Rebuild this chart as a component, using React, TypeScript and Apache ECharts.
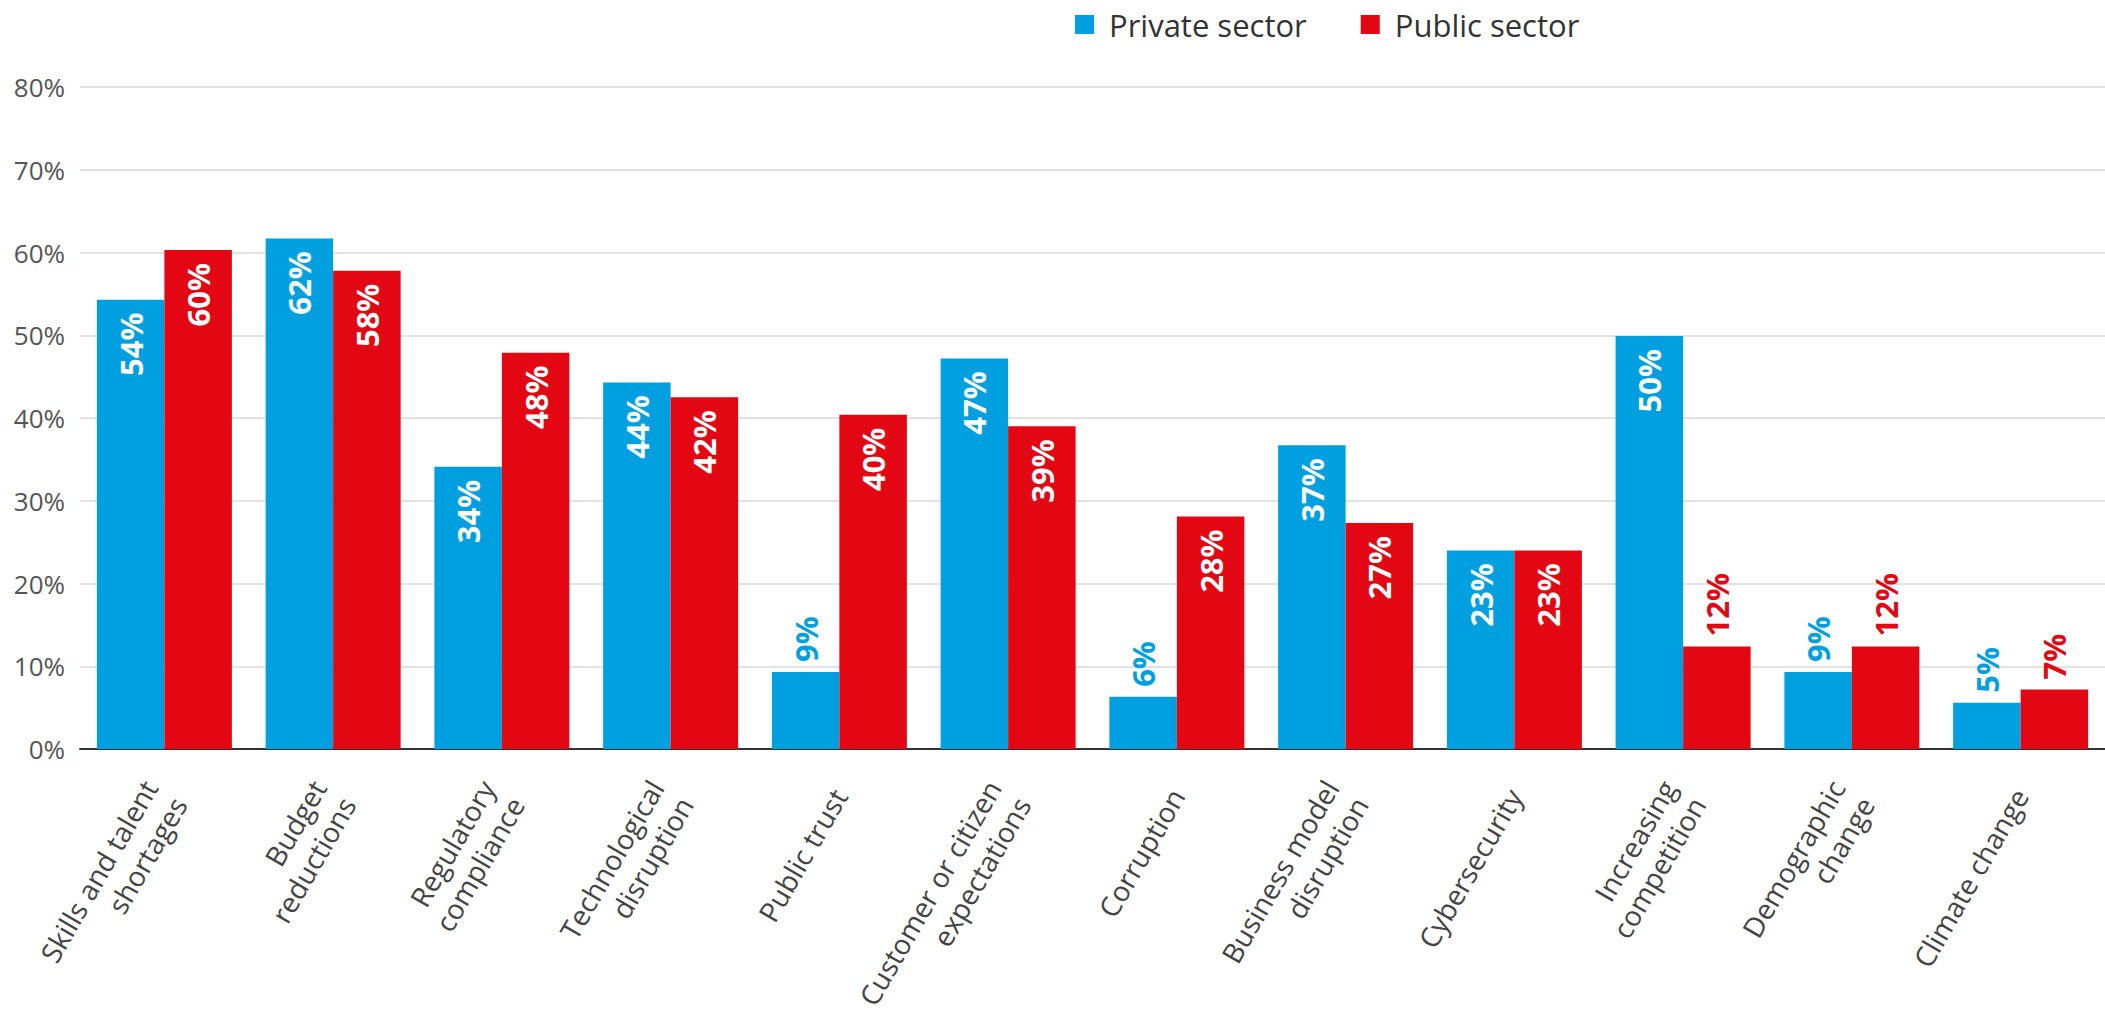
import React, { useEffect, useRef } from "react";
import * as echarts from "echarts";

const categories = [
  "Skills and talent\nshortages",
  "Budget\nreductions",
  "Regulatory\ncompliance",
  "Technological\ndisruption",
  "Public trust",
  "Customer or citizen\nexpectations",
  "Corruption",
  "Business model\ndisruption",
  "Cybersecurity",
  "Increasing\ncompetition",
  "Demographic\nchange",
  "Climate change",
];
const privateValues = [54.3, 61.7, 34.1, 44.3, 9.3, 47.2, 6.3, 36.7, 24.0, 49.9, 9.3, 5.6];
const publicValues = [60.3, 57.8, 47.9, 42.5, 40.4, 39.0, 28.1, 27.3, 24.0, 12.4, 12.4, 7.2];
const privateLabels = [54, 62, 34, 44, 9, 47, 6, 37, 23, 50, 9, 5];
const publicLabels = [60, 58, 48, 42, 40, 39, 28, 27, 23, 12, 12, 7];
const yTicks = [0, 10, 20, 30, 40, 50, 60, 70, 80];

const BLUE = "#009FDF";
const RED = "#E30613";
const FONT = "'Open Sans', sans-serif";

function buildData(values: number[], labels: number[], color: string) {
  return values.map((v, i) => {
    const inside = v >= 15;
    return {
      value: v,
      label: inside
        ? {
            show: true,
            position: "insideTop",
            rotate: 90,
            align: "right",
            verticalAlign: "middle",
            distance: 13,
            color: "#ffffff",
            formatter: labels[i] + "%",
          }
        : {
            show: true,
            position: "top",
            rotate: 90,
            align: "left",
            verticalAlign: "middle",
            distance: 10,
            color: color,
            formatter: labels[i] + "%",
          },
    };
  });
}

export default function App() {
  const ref = useRef<HTMLDivElement>(null);
  useEffect(() => {
    if (!ref.current) return;
    const chart = echarts.init(ref.current, null, { renderer: "svg" });
    const labelFont = { fontFamily: FONT, fontWeight: "bold", fontSize: 31 };
    chart.setOption({
      animation: false,
      backgroundColor: "#ffffff",
      legend: {
        data: ["Private sector", "Public sector"],
        left: 1070,
        top: 4,
        itemWidth: 19,
        itemHeight: 19,
        itemGap: 54,
        icon: "rect",
        textStyle: {
          fontFamily: FONT,
          fontSize: 31,
          color: "#333333",
          padding: [0, 0, 0, 10],
        },
      },
      grid: {
        left: 80,
        right: 0,
        top: 87,
        bottom: 283,
        containLabel: false,
        outerBoundsMode: "none",
      },
      xAxis: {
        type: "category",
        data: categories,
        axisTick: { show: false },
        axisLine: { lineStyle: { color: "#333333", width: 2 } },
        axisLabel: {
          rotate: 60,
          interval: 0,
          margin: 42,
          fontFamily: FONT,
          fontSize: 28,
          color: "#444444",
          lineHeight: 34,
          padding: [63, 0, 0, 0],
        },
      },
      yAxis: {
        type: "value",
        min: 0,
        max: 80,
        interval: 10,
        axisLine: { show: false },
        axisTick: { show: false },
        splitLine: { lineStyle: { color: "#e2e2e2", width: 2 } },
        axisLabel: {
          formatter: (v: number) => (yTicks.includes(v) ? v + "%" : ""),
          margin: 15,
          fontFamily: FONT,
          fontSize: 26,
          color: "#555555",
        },
      },
      series: [
        {
          name: "Private sector",
          type: "bar",
          data: buildData(privateValues, privateLabels, BLUE),
          itemStyle: { color: BLUE },
          barGap: "0%",
          barCategoryGap: "20%",
          label: labelFont,
        },
        {
          name: "Public sector",
          type: "bar",
          data: buildData(publicValues, publicLabels, RED),
          itemStyle: { color: RED },
          barGap: "0%",
          barCategoryGap: "20%",
          label: labelFont,
        },
      ],
    });
    return () => chart.dispose();
  }, []);
  return (
    <div
      ref={ref}
      style={{ position: "absolute", left: 0, top: 0, width: 2105, height: 1032 }}
    />
  );
}
